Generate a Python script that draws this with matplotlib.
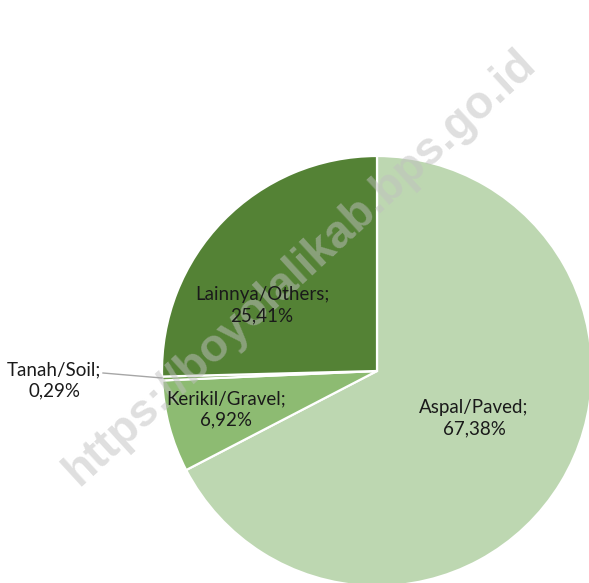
import matplotlib
matplotlib.use("Agg")
import matplotlib.pyplot as plt

categories = ["Aspal/Paved", "Kerikil/Gravel", "Tanah/Soil", "Lainnya/Others"]
values = [67.38, 6.92, 0.29, 25.41]
labels = ["Aspal/Paved;\n67,38%", "Kerikil/Gravel;\n6,92%", "Tanah/Soil;\n0,29%", "Lainnya/Others;\n25,41%"]
colors = ["#BDD7B1", "#8DBB72", "#6E9E4B", "#548235"]

W, H = 589, 583
fig = plt.figure(figsize=(W / 100, H / 100), dpi=100)
cx, cy, r = 377, 371, 215
ax = fig.add_axes([(cx - r) / W, 1 - (cy + r) / H, 2 * r / W, 2 * r / H])

wedges, _ = ax.pie(values, colors=colors, startangle=90, counterclock=False, radius=1,
                   wedgeprops=dict(edgecolor="white", linewidth=1.6))
for w in wedges:
    w.set_clip_on(False)
ax.set_aspect("auto")
ax.set_xlim(-1, 1)
ax.set_ylim(-1, 1)
ax.axis("off")

font = dict(family=["Lato", "DejaVu Sans"], fontsize=13.5, color="#1a1a1a",
            ha="center", va="center", linespacing=1.3, zorder=5)
pos = [(0.451, -0.219), (-0.702, -0.179), (-1.502, -0.042), (-0.535, 0.307)]
for lab, (x, y) in zip(labels, pos):
    ax.text(x, y, lab, **font)

# leader line for Tanah/Soil
ax.plot([(103 - cx) / r, (162 - cx) / r], [-(373 - cy) / r, -(378 - cy) / r],
        color="#a6a6a6", lw=1, clip_on=False, zorder=4)

ax.text(300 / W, 1 - 268 / H, "https://boyolalikab.bps.go.id", rotation=42.5,
        transform=fig.transFigure, ha="center", va="center", fontsize=33,
        fontweight="bold", family="Liberation Sans", color="#c0c0c0", alpha=0.5,
        zorder=3, clip_on=False)

fig.savefig("out.png", dpi=100)
